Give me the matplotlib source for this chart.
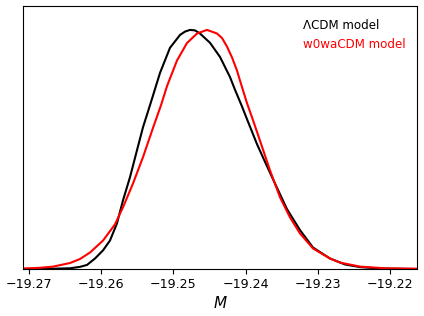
import matplotlib

matplotlib.use("Agg")
import matplotlib.pyplot as plt

# marginal posterior of M (peak normalised to 1)
lcdm_m = [-19.27079, -19.26705, -19.26429, -19.26290, -19.26194, -19.26083,
          -19.25972, -19.25876, -19.25779, -19.25696, -19.25599, -19.25502,
          -19.25419, -19.25309, -19.25184, -19.25046, -19.24907, -19.24838,
          -19.24769, -19.24700, -19.24631, -19.24492, -19.24354, -19.24216,
          -19.24147, -19.24050, -19.23981, -19.23842, -19.23704, -19.23566,
          -19.23427, -19.23248, -19.23068, -19.22833, -19.22625, -19.22418,
          -19.22141, -19.21629]
lcdm_p = [0.000, 0.001, 0.003, 0.009, 0.017, 0.044,
          0.078, 0.119, 0.191, 0.287, 0.384, 0.497,
          0.593, 0.698, 0.820, 0.925, 0.979, 0.993,
          1.000, 0.998, 0.985, 0.946, 0.887, 0.803,
          0.750, 0.680, 0.627, 0.522, 0.430, 0.340,
          0.250, 0.163, 0.090, 0.044, 0.019, 0.008,
          0.002, 0.000]

w0wa_m = [-19.27079, -19.26844, -19.26664, -19.26429, -19.26290, -19.26152,
          -19.25972, -19.25806, -19.25696, -19.25557, -19.25419, -19.25281,
          -19.25225, -19.25170, -19.25087, -19.24949, -19.24811, -19.24672,
          -19.24534, -19.24396, -19.24326, -19.24257, -19.24188, -19.24119,
          -19.24050, -19.23981, -19.23898, -19.23773, -19.23663, -19.23524,
          -19.23386, -19.23248, -19.23068, -19.22833, -19.22694, -19.22418,
          -19.22072, -19.21629]
w0wa_p = [0.002, 0.005, 0.010, 0.025, 0.042, 0.069,
          0.119, 0.187, 0.258, 0.358, 0.468, 0.590,
          0.638, 0.685, 0.765, 0.872, 0.945, 0.985,
          1.000, 0.985, 0.966, 0.930, 0.885, 0.830,
          0.761, 0.694, 0.623, 0.512, 0.413, 0.300,
          0.216, 0.149, 0.086, 0.044, 0.027, 0.010,
          0.003, 0.001]

labels = ["ΛCDM model", "w0waCDM model"]
colors = ["black", "red"]
tick_values = [-19.27, -19.26, -19.25, -19.24, -19.23, -19.22]

fig = plt.figure(figsize=(4.24, 3.16), dpi=100)
ax = fig.add_axes([23 / 424, 1 - 269 / 316, 394 / 424, 263 / 316])

ax.plot(lcdm_m, lcdm_p, color=colors[0], lw=1.5)
ax.plot(w0wa_m, w0wa_p, color=colors[1], lw=1.5)

ax.set_xlim(-19.27079, -19.21629)
ax.set_ylim(0, 1.1)
ax.set_yticks([])
ax.set_xticks(tick_values)
ax.set_xticklabels([f"{v:.2f}".replace("-", "\u2212") for v in tick_values])
ax.tick_params(axis="x", labelsize=9.1, pad=3)
ax.set_xlabel("$M$", fontsize=11, labelpad=3)

ax.text(0.711, 0.926, labels[0], color=colors[0], fontsize=8.6,
        transform=ax.transAxes, va="center")
ax.text(0.711, 0.853, labels[1], color=colors[1], fontsize=8.6,
        transform=ax.transAxes, va="center")

fig.savefig("out.png", dpi=100)
plt.close(fig)
